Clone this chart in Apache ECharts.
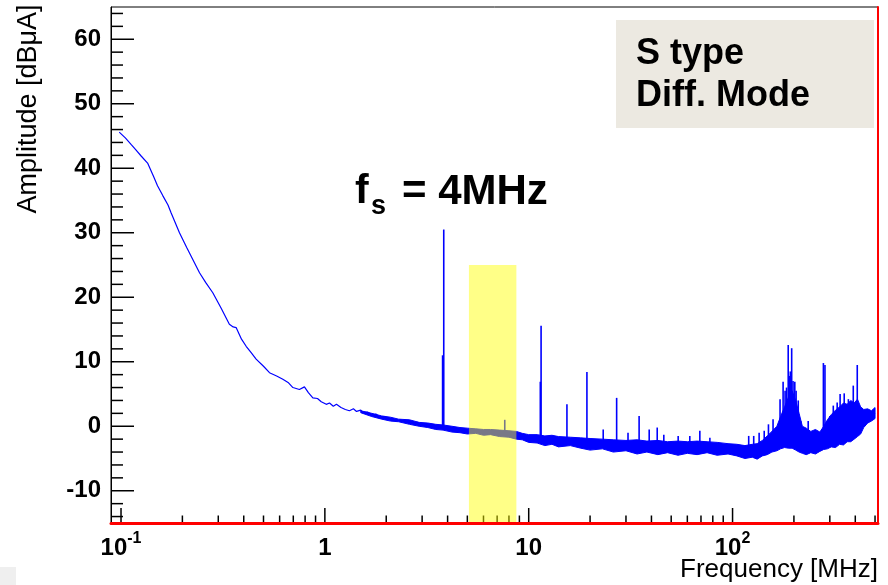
<!DOCTYPE html>
<html><head><meta charset="utf-8">
<script src="https://cdn.jsdelivr.net/npm/echarts@6/dist/echarts.min.js"></script>
<style>html,body{margin:0;padding:0;background:#fff}#c{width:888px;height:585px}</style>
</head><body><div id="c"></div>
<script>
// ---- axis ranges / ticks ----
const X_MIN = 0.0893, X_MAX = 517;
const Y_MIN = -15, Y_MAX = 65;
const xMajorTicks = [0.1, 1, 10, 100];
const xMinorTicks = [0.2,0.3,0.4,0.5,0.6,0.7,0.8,0.9, 2,3,4,5,6,7,8,9, 20,30,40,50,60,70,80,90, 200,300,400,500];
const yMajorTicks = [-10,0,10,20,30,40,50,60];
const yMinorTicks = [-14,-12,-8,-6,-4,-2,2,4,6,8,12,14,16,18,22,24,26,28,32,34,36,38,42,44,46,48,52,54,56,58,62,64];
const yLabels = [-10,0,10,20,30,40,50,60];

// ---- main trace (MHz, dBuA) ----
const traceFreq = [0.098,0.105,0.112,0.118,0.1255,0.135,0.145,0.151,0.160,0.170,0.176,0.1935,0.21,0.2427,0.26,0.282,0.31,0.340,0.355,0.367,0.39,0.411,0.435,0.460,0.50,0.535,0.58,0.622,0.66,0.697,0.71,0.75,0.794,0.83,0.873,0.92,0.96,1.016,1.054,1.1,1.14,1.2,1.26,1.32,1.38,1.43,1.5,1.54,1.62,1.7,1.78,1.86,1.95,2.05,2.15,2.24,2.35,2.45,2.58,2.70,2.85,3.0,3.27,3.55,3.80,4.1,4.42,4.7,5.03,5.6,6.44,7.0,7.63,8.1,8.53,9.2,10.1,11,13,15,17.2,20,25,30,40,50,60,70,80,90,100,110,120,130,140,150,160,170,180,190,200,215,230,250,270,290,310,330,360,390,420,450,480,500];
const traceAmp  = [45.6,44.7,43.7,42.9,41.9,40.8,38.6,37.3,35.8,34.3,33.1,30.0,27.7,23.8,22.3,20.7,18.3,15.8,15.4,15.3,13.5,12.4,11.4,10.4,9.3,8.3,7.8,7.3,6.8,6.0,6.2,5.7,6.1,5.2,4.4,4.3,3.8,3.4,3.6,3.1,3.4,2.9,2.6,2.4,2.7,2.3,2.5,2.1,2.2,1.7,1.9,1.3,1.5,1.1,1.2,0.8,1.0,0.7,0.8,0.5,0.6,0.2,0.0,-0.2,-0.3,-0.4,-0.5,-0.7,-0.8,-0.8,-0.9,-1.0,-1.1,-1.2,-1.3,-1.6,-1.8,-2.0,-2.1,-2.3,-2.4,-2.7,-3.0,-3.2,-3.3,-3.3,-3.4,-3.4,-3.4,-3.5,-3.7,-3.9,-4.1,-4.2,-3.6,-3.0,-2.2,-1.5,-0.8,-0.5,-1.0,-2.0,-2.6,-2.5,-2.4,-2.0,-1.5,-1.0,-0.8,-0.4,0.2,1.0,1.5,2.0];

// ---- noise band envelope ----
const bandFreq = [1.5,1.7,1.9,2.1,2.3,2.6,2.9,3.2,3.5,3.8,4.2,4.6,5.0,5.5,6.0,6.5,7.2,8.0,8.7,9.3,10,11,12,13,14,16,18,20,23,26,30,34,38,43,48,54,60,67,75,84,95,105,115,125,132,140,148,156,165,172,180,188,196,204,212,220,230,242,255,268,280,292,305,320,335,350,365,380,395,410,425,440,460,480,500];
const bandLow  = [2.1,1.5,1.1,0.8,0.7,0.3,0.0,-0.2,-0.5,-0.6,-0.9,-1.0,-1.2,-1.1,-1.4,-1.3,-1.6,-1.7,-2.0,-2.1,-2.5,-2.6,-3.0,-2.8,-3.2,-3.0,-3.4,-3.7,-3.5,-4.0,-3.8,-4.3,-4.0,-4.4,-4.1,-4.5,-4.2,-4.4,-4.1,-4.5,-4.3,-4.6,-5.0,-4.8,-5.1,-4.6,-4.4,-4.0,-3.8,-3.5,-3.3,-3.4,-3.4,-3.7,-4.0,-4.2,-4.4,-4.1,-4.3,-3.9,-3.6,-3.5,-3.2,-3.3,-2.8,-2.9,-2.4,-2.4,-2.0,-1.6,-1.2,-0.2,0.5,0.8,1.2];
const bandHigh = [2.4,2.0,1.6,1.4,1.1,1.0,0.6,0.5,0.3,0.2,0.0,-0.2,-0.3,-0.4,-0.5,-0.5,-0.6,-0.7,-0.8,-1.1,-1.3,-1.3,-1.5,-1.4,-1.6,-1.7,-1.8,-1.9,-2.0,-2.1,-2.2,-2.1,-2.3,-2.2,-2.4,-2.3,-2.4,-2.3,-2.4,-2.5,-2.7,-2.8,-3.0,-2.8,-2.7,-2.2,-1.5,-0.8,0.0,1.5,3.0,4.5,5.5,4.0,2.0,0.0,-0.3,-0.8,-0.5,-0.9,0.0,1.0,1.8,2.5,3.0,3.6,3.4,4.0,3.6,4.2,3.0,2.6,2.7,2.4,2.9];

// ---- spectral lines ----
const spikeFreq = [3.78,3.83,7.63,11.4,11.5,15.4,19.3,23.2,27.0,30.7,34.8,39.0,42.7,46.0,54.1,61.7,69.1,77.4,120,127,135,143,150,158,171,177,181,184,187.5,190,192,195,198,202,205,210,216,235,254,268,279,284,300,312,326,337,353,370,391,409,430,455];
const spikeBase = [-0.4,-0.4,-1.2,-2.0,-2.0,-2.3,-2.6,-2.8,-3.0,-3.1,-3.2,-3.3,-3.3,-3.3,-3.3,-3.4,-3.4,-3.4,-4.1,-4.2,-4.0,-3.5,-3.0,-2.5,-1.5,-1.0,-0.8,-0.6,-0.5,-0.5,-0.5,-0.6,-0.8,-1.0,-1.3,-1.6,-2.0,-2.6,-2.5,-2.4,-2.2,-2.1,-1.8,-1.5,-1.1,-1.0,-0.9,-0.7,-0.4,-0.1,0.5,1.0];
const spikeTop  = [11.0,30.5,1.0,6.9,15.6,3.4,8.4,-0.5,4.4,-1.0,1.6,-0.5,-0.2,-1.3,-1.5,-1.5,-0.7,-1.8,-1.5,-1.5,-1.0,-0.7,0.3,1.1,4.2,6.9,5.5,6.0,12.6,7.8,8.5,12.1,7.0,6.9,5.5,4.0,0.8,0.8,-0.7,-1.0,9.8,9.5,1.6,3.2,3.7,5.0,5.1,4.2,6.3,9.5,2.7,2.4];

// ---- highlighted band (MHz from, MHz to, dB top) ----
const hlFrom = 5.09, hlTo = 8.7, hlTop = 25;

const BLUE = '#0000ff';
const FONT = '"Liberation Sans", Arial, sans-serif';

function fmtX(v){
  const l = Math.log10(v), r = Math.round(l);
  if (Math.abs(l - r) > 1e-6) return '';
  if (r === -1) return '{b|10}{sup|-1}';
  if (r === 0) return '{b|1}';
  if (r === 1) return '{b|10}';
  if (r === 2) return '{b|10}{sup|2}';
  return '';
}

const chart = echarts.init(document.getElementById('c'));
const option = {
  animation: false,
  backgroundColor: '#fff',
  grid: {left:111, right:10, top:7, bottom:62, show:true, borderColor:'#000', borderWidth:1, backgroundColor:'transparent'},
  xAxis: [{
    type:'log', logBase:10, min:X_MIN, max:X_MAX, z:10,
    axisLine:{show:true, onZero:false, lineStyle:{color:'#ff0000', width:3}},
    axisTick:{show:false}, minorTick:{show:false}, splitLine:{show:false}, minorSplitLine:{show:false},
    axisLabel:{margin:8, color:'#000', formatter:fmtX, showMinLabel:true, showMaxLabel:true, hideOverlap:false,
      rich:{
        b:{fontFamily:FONT, fontSize:24, fontWeight:'bold', color:'#000', lineHeight:34},
        sup:{fontFamily:FONT, fontSize:16, fontWeight:'bold', color:'#000', lineHeight:16, verticalAlign:'top'}
      }}
  }],
  yAxis: [{
    type:'value', min:Y_MIN, max:Y_MAX, interval:5, z:10,
    axisLine:{show:true, onZero:false, lineStyle:{color:'#000', width:1}},
    axisTick:{show:false}, splitLine:{show:false},
    axisLabel:{margin:10, color:'#000', fontFamily:FONT, fontSize:24, fontWeight:'bold',
      formatter:v => yLabels.includes(v) ? String(v) : ''}
  },{
    type:'value', position:'right', min:Y_MIN, max:Y_MAX, interval:5, z:10,
    axisLine:{show:true, onZero:false, lineStyle:{color:'#ff0000', width:2}},
    axisTick:{show:false}, axisLabel:{show:false}, splitLine:{show:false}
  }],
  series: [
    { // noise band
      type:'custom', z:2, silent:true,
      data:[[bandFreq[0], bandLow[0]]],
      renderItem:(params, api) => {
        const pts = [];
        for (let i = 0; i < bandFreq.length; i++) pts.push(api.coord([bandFreq[i], bandHigh[i]]));
        for (let i = bandFreq.length - 1; i >= 0; i--) pts.push(api.coord([bandFreq[i], bandLow[i]]));
        return {type:'polygon', shape:{points:pts}, style:{fill:BLUE, stroke:BLUE, lineWidth:1}};
      }
    },
    {
      type:'line', z:2, silent:true, showSymbol:false, symbol:'none',
      data: traceFreq.map((f,i) => [f, traceAmp[i]]),
      lineStyle:{color:BLUE, width:1.2}
    },
    { // spectral lines
      type:'custom', z:3, silent:true,
      data: spikeFreq.map((f,i) => [f, spikeBase[i], spikeTop[i]]),
      renderItem:(params, api) => {
        const p1 = api.coord([api.value(0), api.value(1)]);
        const p2 = api.coord([api.value(0), api.value(2)]);
        return {type:'line', shape:{x1:p1[0], y1:p1[1], x2:p2[0], y2:p2[1]}, style:{stroke:BLUE, lineWidth:1.6}};
      }
    },
    { // x ticks
      type:'custom', z:3, silent:true,
      data: xMajorTicks.map(v => [v, Y_MIN, 1]).concat(xMinorTicks.map(v => [v, Y_MIN, 0])),
      renderItem:(params, api) => {
        const p = api.coord([api.value(0), api.value(1)]);
        const len = api.value(2) ? 15 : 7.5;
        return {type:'line', shape:{x1:p[0], y1:p[1], x2:p[0], y2:p[1]-len}, style:{stroke:'#000', lineWidth:1.5}};
      }
    },
    { // y ticks
      type:'custom', z:3, silent:true,
      data: yMajorTicks.map(v => [X_MIN, v, 1]).concat(yMinorTicks.map(v => [X_MIN, v, 0])),
      renderItem:(params, api) => {
        const p = api.coord([api.value(0), api.value(1)]);
        const len = api.value(2) ? 23 : 12;
        return {type:'line', shape:{x1:p[0], y1:p[1], x2:p[0]+len, y2:p[1]}, style:{stroke:'#000', lineWidth:1.5}};
      }
    },
    { // highlighted region
      type:'custom', z:4, silent:true,
      data:[[hlFrom, hlTop, hlTo]],
      renderItem:(params, api) => {
        const a = api.coord([api.value(0), Y_MIN]);
        const b = api.coord([api.value(2), api.value(1)]);
        return {type:'rect', shape:{x:a[0], y:b[1], width:b[0]-a[0], height:a[1]-b[1]}, style:{fill:'rgba(255,255,0,0.47)'}};
      }
    }
  ],
  graphic: [
    {type:'text', x:29, y:109, rotation:Math.PI/2, z:20,
      style:{text:'Amplitude [dBμA]', font:'27px ' + FONT, fill:'#000', align:'center', verticalAlign:'middle'}},
    {type:'text', x:878, y:570, z:20,
      style:{text:'Frequency [MHz]', font:'26px ' + FONT, fill:'#000', align:'right', verticalAlign:'middle'}},
    {type:'rect', x:616, y:20, z:20, shape:{width:258, height:108}, style:{fill:'#ece9e1'}},
    {type:'text', x:636, y:54, z:21,
      style:{text:'S type', font:'bold 36px ' + FONT, fill:'#000', align:'left', verticalAlign:'middle'}},
    {type:'text', x:636, y:96, z:21,
      style:{text:'Diff. Mode', font:'bold 36px ' + FONT, fill:'#000', align:'left', verticalAlign:'middle'}},
    {type:'text', x:355, y:192, z:21,
      style:{text:'f', font:'bold 41px ' + FONT, fill:'#000', align:'left', verticalAlign:'middle'}},
    {type:'text', x:371, y:207, z:21,
      style:{text:'s', font:'bold 27px ' + FONT, fill:'#000', align:'left', verticalAlign:'middle'}},
    {type:'text', x:402, y:192, z:21,
      style:{text:'= 4MHz', font:'bold 42px ' + FONT, fill:'#000', align:'left', verticalAlign:'middle'}},
    {type:'rect', x:0, y:567, z:20, shape:{width:16, height:18}, style:{fill:'#efefef'}}
  ]
};
chart.setOption(option);
</script></body></html>
